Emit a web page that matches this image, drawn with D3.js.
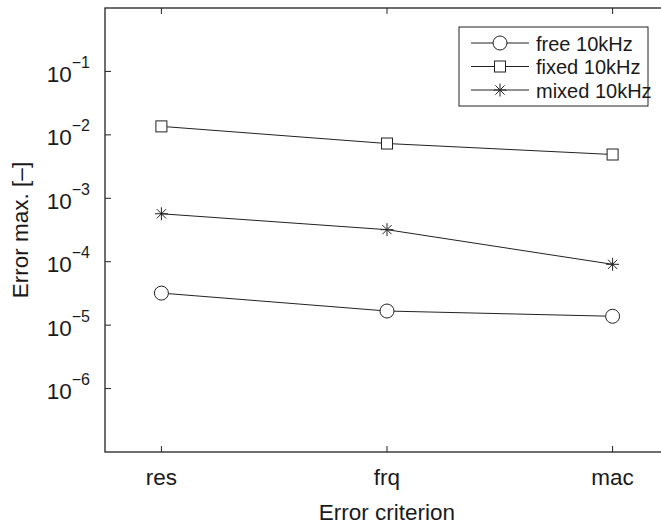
<!DOCTYPE html>
<html>
<head>
<meta charset="utf-8">
<script src="https://cdn.jsdelivr.net/npm/d3@7"></script>
<style>
  body { margin: 0; background: #fff; }
  text { font-family: "Liberation Sans", Arial, Helvetica, sans-serif; fill: #1a1a1a; }
</style>
</head>
<body>
<div class="chart"></div>
<script>
// data
const criteria = ["res", "frq", "mac"];
const freeVals = [3.2e-5, 1.67e-5, 1.38e-5];
const fixedVals = [1.36e-2, 7.3e-3, 4.9e-3];
const mixedVals = [5.7e-4, 3.2e-4, 9.1e-5];
const seriesNames = ["free 10kHz", "fixed 10kHz", "mixed 10kHz"];
const yTickExps = [-1, -2, -3, -4, -5, -6];

const W = 661, H = 524;
const margin = {top: 8, left: 105, bottom: 72, right: -8};
const width = W - margin.left - margin.right,
    height = H - margin.top - margin.bottom;

const svg = d3.select(".chart")
  .append("svg")
    .attr("width", W)
    .attr("height", H);

const g = svg.append("g")
    .attr("transform", "translate(" + margin.left + "," + margin.top + ")");

const x = d3.scaleLinear()
  .domain([0.75, 3.25])
  .range([0, width]);

const y = d3.scaleLog()
  .domain([1e-7, 1])
  .range([height, 0]);

const ink = "#222";

// frame
g.append("rect")
  .attr("width", width)
  .attr("height", height)
  .attr("fill", "none")
  .attr("stroke", ink)
  .attr("stroke-width", 1.3);

// x ticks (inward, bottom and top)
criteria.forEach((c, i) => {
  const px = x(i + 1);
  g.append("line").attr("x1", px).attr("x2", px).attr("y1", height).attr("y2", height - 6)
    .attr("stroke", ink);
  g.append("line").attr("x1", px).attr("x2", px).attr("y1", 0).attr("y2", 6)
    .attr("stroke", ink);
  g.append("text")
    .attr("x", px)
    .attr("y", height + 33)
    .attr("text-anchor", "middle")
    .style("font-size", "22.5px")
    .text(c);
});

// y ticks
yTickExps.forEach(e => {
  const py = y(Math.pow(10, e));
  g.append("line").attr("x1", 0).attr("x2", 6).attr("y1", py).attr("y2", py)
    .attr("stroke", ink);
  g.append("line").attr("x1", width).attr("x2", width - 6).attr("y1", py).attr("y2", py)
    .attr("stroke", ink);
  const t = g.append("text")
    .attr("x", -15)
    .attr("y", py + 10.5)
    .attr("text-anchor", "end")
    .style("font-size", "22.5px");
  t.append("tspan").text("10");
  t.append("tspan")
    .attr("dy", -14)
    .style("font-size", "16px")
    .text("\u2212" + Math.abs(e));
});

// axis labels
svg.append("text")
  .attr("x", 387)
  .attr("y", 520)
  .attr("text-anchor", "middle")
  .style("font-size", "22.5px")
  .text("Error criterion");

svg.append("text")
  .attr("transform", "translate(28," + (margin.top + height / 2) + ") rotate(-90)")
  .attr("text-anchor", "middle")
  .style("font-size", "22.5px")
  .text("Error max. [\u2013]");

// markers
function drawMarker(sel, kind) {
  if (kind === 0) {
    sel.append("circle").attr("r", 7).attr("fill", "#fff").attr("stroke", ink);
  } else if (kind === 1) {
    sel.append("rect").attr("x", -5.5).attr("y", -5.5).attr("width", 11).attr("height", 11)
      .attr("fill", "#fff").attr("stroke", ink);
  } else {
    const r = 6.5, d = 4.6;
    sel.append("path")
      .attr("d", `M${-r},0L${r},0M0,${-r}L0,${r}M${-d},${-d}L${d},${d}M${-d},${d}L${d},${-d}`)
      .attr("stroke", ink)
      .attr("fill", "none");
  }
}

const allSeries = [freeVals, fixedVals, mixedVals];
const line = d3.line()
  .x((d, i) => x(i + 1))
  .y(d => y(d));

allSeries.forEach((vals, k) => {
  g.append("path")
    .datum(vals)
    .attr("d", line)
    .attr("fill", "none")
    .attr("stroke", ink)
    .attr("stroke-width", 1);
  vals.forEach((v, i) => {
    const m = g.append("g").attr("transform", "translate(" + x(i + 1) + "," + y(v) + ")");
    drawMarker(m, k);
  });
});

// legend
const leg = svg.append("g").attr("transform", "translate(459,27)");
leg.append("rect")
  .attr("width", 189)
  .attr("height", 79)
  .attr("fill", "#fff")
  .attr("stroke", ink)
  .attr("stroke-width", 1);

seriesNames.forEach((name, k) => {
  const ry = 16 + k * 23.5;
  leg.append("line").attr("x1", 12).attr("x2", 70).attr("y1", ry).attr("y2", ry)
    .attr("stroke", ink);
  drawMarker(leg.append("g").attr("transform", "translate(41," + ry + ")"), k);
  leg.append("text")
    .attr("x", 77)
    .attr("y", ry + 7.5)
    .style("font-size", "20px")
    .text(name);
});
</script>
</body>
</html>
